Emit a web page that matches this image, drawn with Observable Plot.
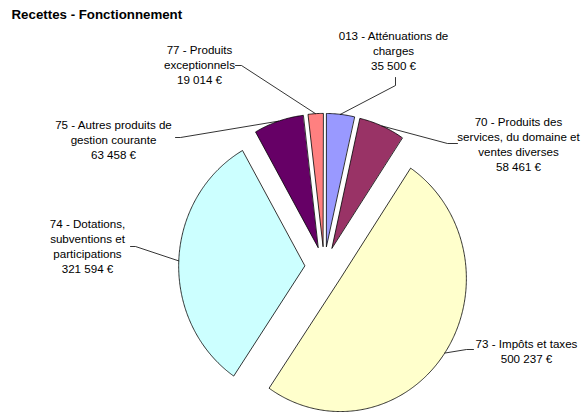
<!DOCTYPE html>
<html><head><meta charset="utf-8">
<script src="https://cdn.jsdelivr.net/npm/d3@7"></script>
<script src="https://cdn.jsdelivr.net/npm/@observablehq/plot@0.6"></script>
<style>body{margin:0;background:#fff;}</style>
</head><body><div id="chart"></div>
<script>
// ---- data ----
const codes = ["013", "70", "73", "74", "75", "77"];
const names = [
  "013 - Atténuations de\ncharges",
  "70 - Produits des\nservices, du domaine et\nventes diverses",
  "73 - Impôts et taxes",
  "74 - Dotations,\nsubventions et\nparticipations",
  "75 - Autres produits de\ngestion courante",
  "77 - Produits\nexceptionnels"
];
const values = [35500, 58461, 500237, 321594, 63458, 19014];
const title = "Recettes - Fonctionnement";

// ---- styles ----
const colors = ["#9999FF", "#993366", "#FFFFCC", "#CCFFFF", "#660066", "#FF8080"];

// ---- layout (pixels) ----
const W = 587, H = 412;
const Cx = 323.7, Cy = 266.5, RX = 126, RY = 133, EXPLODE = 0.155;
const labelPos = { "013": [393, 50], "70": [518, 143], "73": [526, 350.5], "74": [87, 245.5], "75": [113, 139], "77": [199, 64] };
const leaderStart = {
  "013": [[395, 77], [395, 85]],
  "70": [[457, 143], [447, 143]],
  "73": [[473, 349], [466, 349]],
  "74": [[130, 246], [135, 246]],
  "75": [[175, 137], [180, 137]],
  "77": [[235, 65], [241, 65]]
};
const ux = px => (px - Cx) / RX, uy = py => (py - Cy) / RY;

const fmt = v => d3.format(",")(v).replace(/,/g, "\u00a0") + "\u00a0€";
const data = codes.map((c, i) => ({ code: c, name: names[i], value: values[i] }));
const arcs = d3.pie().sort(null).value(d => d.value)(data);

// slice polygons (unit circle, exploded)
const slicePts = [];
const leaderPts = [];
for (const a of arcs) {
  const mid = (a.startAngle + a.endAngle) / 2;
  const ox = EXPLODE * Math.sin(mid), oy = -EXPLODE * Math.cos(mid);
  slicePts.push({ code: a.data.code, x: ox, y: oy });
  const n = Math.max(4, Math.ceil((a.endAngle - a.startAngle) / 0.01));
  for (let k = 0; k <= n; k++) {
    const t = a.startAngle + (a.endAngle - a.startAngle) * k / n;
    slicePts.push({ code: a.data.code, x: ox + Math.sin(t), y: oy - Math.cos(t) });
  }
  for (const [px, py] of leaderStart[a.data.code]) leaderPts.push({ code: a.data.code, x: ux(px), y: uy(py) });
  leaderPts.push({ code: a.data.code, x: ox + Math.sin(mid), y: oy - Math.cos(mid) });
}
const labels = data.map(d => ({ code: d.code, x: ux(labelPos[d.code][0]), y: uy(labelPos[d.code][1]), text: d.name + "\n" + fmt(d.value) }));

const chart = Plot.plot({
  width: W, height: H,
  margin: 0,
  x: { domain: [ux(0), ux(W)], range: [0, W], axis: null },
  y: { domain: [uy(0), uy(H)], range: [0, H], axis: null },
  color: { type: "ordinal", domain: codes, range: colors },
  style: { fontFamily: "'Liberation Sans', Arial, sans-serif", background: "white", overflow: "visible" },
  marks: [
    Plot.line(slicePts, { x: "x", y: "y", z: "code", fill: "code", stroke: "black", strokeWidth: 0.8, curve: "linear-closed" }),
    Plot.line(leaderPts, { x: "x", y: "y", z: "code", stroke: "black", strokeWidth: 0.8 }),
    Plot.text(labels, { x: "x", y: "y", text: "text", fontSize: 11.6, lineHeight: 1.3, textAnchor: "middle", lineAnchor: "middle", fill: "black" }),
    Plot.text([title], { text: d => d, frameAnchor: "top-left", dx: 11, dy: 9.5, lineAnchor: "top", textAnchor: "start", fontWeight: "bold", fontSize: 13.3, fill: "black" })
  ]
});
document.getElementById("chart").appendChild(chart);
</script>
</body></html>
